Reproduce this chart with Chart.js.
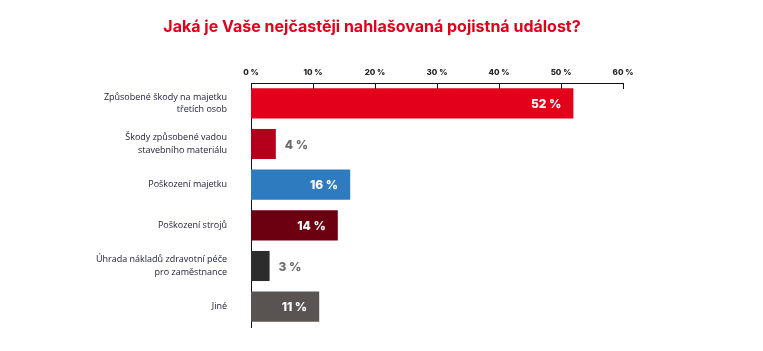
<!DOCTYPE html>
<html>
<head>
<meta charset="utf-8">
<script src="https://cdn.jsdelivr.net/npm/chart.js@4/dist/chart.umd.min.js"></script>
<style>
  html, body { margin: 0; padding: 0; background: #fff; }
  #wrap { width: 763px; height: 351px; }
</style>
</head>
<body>
<div id="wrap"><canvas id="pojistne-udalosti"></canvas></div>
<script>
var nadpis = 'Jaká je Vaše nejčastěji nahlašovaná pojistná událost?';
var kategorie = [
    ["Způsobené škody na majetku", "třetích osob"],
    ["Škody způsobené vadou", "stavebního materiálu"],
    "Poškození majetku",
    "Poškození strojů",
    ["Úhrada nákladů zdravotní péče", "pro zaměstnance"],
    "Jiné"
];
var hodnoty = [52, 4, 16, 14, 3, 11];
var barvy = ["#e2001a", "#b5001b", "#2f7bbf", "#6d0010", "#2c2c2c", "#595451"];
// popisek uvnitr sloupce nebo vedle nej
var uvnitr = [true, false, true, true, false, true];
var osaX = [0, 10, 20, 30, 40, 50, 60];

var popisky = {
    id: 'popisky',
    afterDatasetsDraw: function (chart) {
        var ctx = chart.ctx;
        var meta = chart.getDatasetMeta(0);
        ctx.save();
        ctx.font = "800 12px Inter, 'Noto Sans', sans-serif";
        ctx.textBaseline = 'middle';
        meta.data.forEach(function (bar, i) {
            var txt = hodnoty[i] + ' %';
            if (uvnitr[i]) {
                ctx.fillStyle = '#ffffff';
                ctx.textAlign = 'right';
                ctx.fillText(txt, bar.x - 12, bar.y + 1);
            } else {
                ctx.fillStyle = '#6b6b6b';
                ctx.textAlign = 'left';
                ctx.fillText(txt, bar.x + 9, bar.y + 1);
            }
        });
        ctx.restore();
    },
    afterDraw: function (chart) {
        var ctx = chart.ctx;
        var sx = chart.scales.x;
        var top = chart.chartArea.top;
        ctx.save();
        // nadpis
        ctx.fillStyle = '#e2001a';
        ctx.font = "700 16px Inter, 'Noto Sans', sans-serif";
        ctx.textAlign = 'center';
        ctx.textBaseline = 'middle';
        ctx.fillText(nadpis, 372, 27);
        // carky osy smeruji dolu do grafu
        ctx.strokeStyle = '#111';
        ctx.lineWidth = 1;
        ctx.beginPath();
        osaX.forEach(function (v) {
            var px = Math.round(sx.getPixelForValue(v)) + 0.5;
            ctx.moveTo(px, top);
            ctx.lineTo(px, top + 6);
        });
        ctx.moveTo(sx.left, top + 0.5);
        ctx.lineTo(sx.right, top + 0.5);
        ctx.stroke();
        ctx.restore();
    }
};

var graf = new Chart(document.getElementById("pojistne-udalosti"), {
    type: 'bar',
    data: {
        labels: kategorie,
        datasets: [{
            data: hodnoty,
            backgroundColor: barvy,
            borderWidth: 0,
            barPercentage: 0.74,
            categoryPercentage: 1
        }]
    },
    options: {
        indexAxis: 'y',
        responsive: true,
        maintainAspectRatio: false,
        animation: false,
        layout: { padding: { left: 0, right: 140, top: 35, bottom: 24 } },
        plugins: {
            legend: { display: false },
            tooltip: { enabled: false },
            title: { display: false }
        },
        scales: {
            x: {
                position: 'top',
                min: 0,
                max: 60,
                afterBuildTicks: function (scale) {
                    scale.ticks = osaX.map(function (v) { return { value: v }; });
                },
                afterFit: function (scale) { scale.height = 48; },
                grid: { display: false },
                border: { display: false },
                ticks: {
                    padding: -2,
                    color: '#222',
                    font: { family: "Inter, 'Noto Sans', sans-serif", size: 8, weight: '800' },
                    callback: function (v) { return v + ' %'; }
                }
            },
            y: {
                afterFit: function (scale) {
                    scale.width = 251;
                    scale.paddingTop = 0;
                    scale.paddingBottom = 0;
                },
                grid: { display: false },
                border: { display: true, color: '#111', width: 1 },
                ticks: {
                    padding: 16,
                    color: '#1b1b33',
                    font: { family: "'Open Sans', 'Noto Sans', sans-serif", size: 9, lineHeight: 1.35 }
                }
            }
        }
    },
    plugins: [popisky]
});
</script>
</body>
</html>
